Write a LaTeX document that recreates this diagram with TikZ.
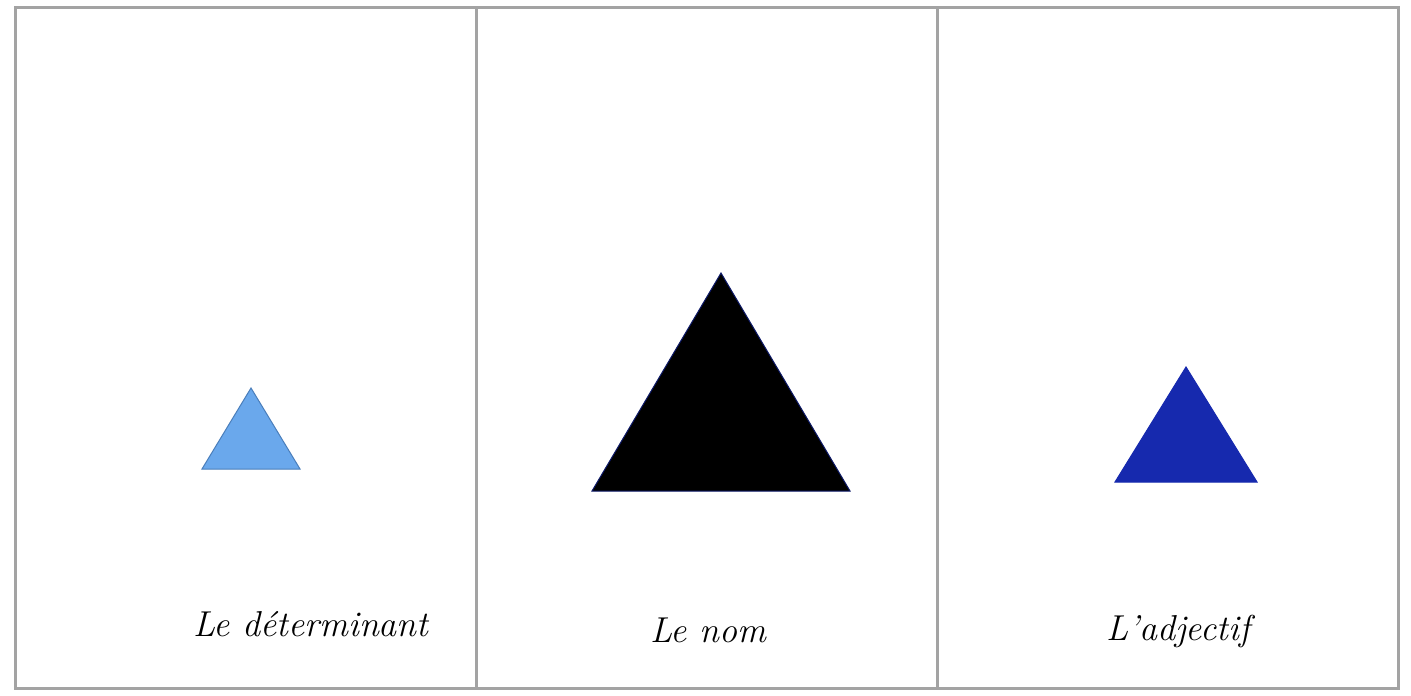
\documentclass[tikz,border=0pt]{standalone}
\usepackage{fontspec}
\definecolor{gridgray}{HTML}{A3A3A3}
\definecolor{lightblue}{HTML}{6AA8EC}
\definecolor{lightblueline}{HTML}{4A7EBB}
\definecolor{darkblue}{HTML}{1629AE}
\begin{document}
\begin{tikzpicture}[x=0.5pt,y=-0.5pt,
  grid/.style={draw=gridgray,line width=1.5pt},
  label/.style={font=\fontsize{18}{20}\selectfont\itshape,text=black,inner sep=0pt,anchor=base}]
\useasboundingbox (0,0) rectangle (1411,695);
\fill[white] (0,0) rectangle (1411,695);
% cells
\draw[grid] (15,8) rectangle (1398,688);
\draw[grid] (476,8) -- (476,688);
\draw[grid] (937,8) -- (937,688);
% triangles
\filldraw[fill=lightblue,draw=lightblueline,line width=0.5pt] (251,388) -- (300,469) -- (202,469) -- cycle;
\filldraw[fill=black,draw=darkblue!60!black,line width=0.5pt] (721,273) -- (850,491) -- (592,491) -- cycle;
\filldraw[fill=darkblue,draw=darkblue,line width=0.5pt] (1186,367) -- (1257,482) -- (1115,482) -- cycle;
% labels
\node[label] (det) at (311,636) {Le déterminant};
\node[label] (nom) at (708,642) {Le nom};
\node[label] (adj) at (1178,640) {L’adjectif};
\end{tikzpicture}
\end{document}
